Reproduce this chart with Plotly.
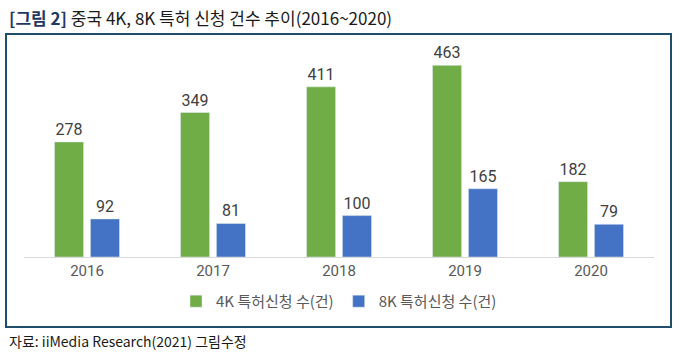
import plotly.graph_objects as go

years = ["2016", "2017", "2018", "2019", "2020"]
k4_values = [278, 349, 411, 463, 182]
k8_values = [92, 81, 100, 165, 79]
series_names = ["4K 특허신청 수(건)", "8K 특허신청 수(건)"]
title_tag = "[그림 2]"
title_text = "중국 4K, 8K 특허 신청 건수 추이(2016~2020)"
source_text = "자료: iiMedia Research(2021) 그림수정"

GREEN = "#70AD47"
BLUE = "#4472C4"
FONT = "Noto Sans CJK KR, Roboto, sans-serif"

fig = go.Figure()
fig.add_trace(go.Bar(
    x=years, y=k4_values, name=series_names[0], marker_color=GREEN,
    text=k4_values, textposition="outside", cliponaxis=False,
    textfont=dict(size=16, color="#404040", family="Roboto, sans-serif"),
))
fig.add_trace(go.Bar(
    x=years, y=k8_values, name=series_names[1], marker_color=BLUE,
    text=k8_values, textposition="outside", cliponaxis=False,
    textfont=dict(size=16, color="#404040", family="Roboto, sans-serif"),
))

fig.update_layout(
    width=680, height=357,
    margin=dict(l=24, r=26, t=50, b=100),
    paper_bgcolor="white", plot_bgcolor="white",
    barmode="group", bargap=0.43, bargroupgap=0.19,
    font=dict(family=FONT, color="#595959"),
    showlegend=True,
    legend=dict(orientation="h", x=0.5, xanchor="center", y=-0.135, yanchor="top",
                font=dict(size=15, color="#595959", family=FONT),
                itemwidth=30, traceorder="normal"),
    xaxis=dict(showline=True, linecolor="#D9D9D9", linewidth=1, ticks="",
               tickfont=dict(size=15, color="#595959", family="Roboto, sans-serif"),
               showgrid=False),
    yaxis=dict(range=[0, 500], visible=False, showgrid=False),
)

fig.add_annotation(
    xref="paper", yref="paper", x=-0.027, y=1.155, xanchor="left", yanchor="middle",
    showarrow=False,
    text=f"<b><span style='color:#1F3864'>{title_tag}</span></b> <span style='color:#1a1a1a'>{title_text}</span>",
    font=dict(size=17, family=FONT),
)
fig.add_annotation(
    xref="paper", yref="paper", x=-0.027, y=-0.406, xanchor="left", yanchor="middle",
    showarrow=False, text=source_text,
    font=dict(size=14, color="#1a1a1a", family=FONT),
)
fig.add_shape(
    type="rect", xref="paper", yref="paper",
    x0=(6 - 24) / 630, x1=(671 - 24) / 630,
    y0=(357 - 100 - 327) / 207, y1=(357 - 100 - 34) / 207,
    line=dict(color="#1F4E6B", width=2), fillcolor="rgba(0,0,0,0)", layer="below",
)

fig.write_html("out.html", config={"displayModeBar": False},
               post_script="document.body.style.margin='0';")
